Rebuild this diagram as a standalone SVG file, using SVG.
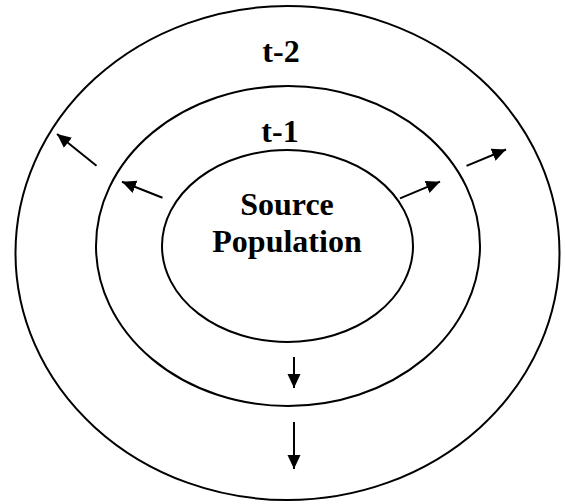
<svg xmlns="http://www.w3.org/2000/svg" width="565" height="504" viewBox="0 0 565 504">
  <style>
    .ring { fill: none; stroke: #000; stroke-width: 2; }
    .lbl { font-family: "Liberation Serif", "Times New Roman", serif; font-weight: bold; font-size: 32px; fill: #000; text-anchor: middle; }
    .arr { stroke: #000; stroke-width: 2; fill: none; marker-end: url(#head); }
  </style>
  <defs>
    <marker id="head" markerUnits="userSpaceOnUse" markerWidth="15" markerHeight="14" refX="14" refY="6.5" orient="auto">
      <path d="M0,0 L14,6.5 L0,13 z" fill="#000"/>
    </marker>
  </defs>
  <rect width="565" height="504" fill="#fff"/>
  <g id="outer">
    <ellipse class="ring" cx="287.5" cy="253" rx="272" ry="247"/>
    <text class="lbl" x="281" y="62">t-2</text>
  </g>
  <g id="middle">
    <ellipse class="ring" cx="288" cy="246" rx="192" ry="160"/>
    <text class="lbl" x="280" y="142">t-1</text>
  </g>
  <g id="source">
    <ellipse class="ring" cx="287.5" cy="246" rx="125.5" ry="96"/>
    <text class="lbl" x="287" y="215">Source</text>
    <text class="lbl" x="287" y="252">Population</text>
  </g>
  <g id="connectors">
    <line class="arr" x1="96.5" y1="165.7" x2="57" y2="134"/>
    <line class="arr" x1="162.5" y1="197.7" x2="122" y2="181.7"/>
    <line class="arr" x1="400" y1="198.3" x2="440" y2="181.7"/>
    <line class="arr" x1="466.5" y1="165.8" x2="506" y2="149.5"/>
    <line class="arr" x1="294" y1="357" x2="294" y2="388"/>
    <line class="arr" x1="294" y1="422" x2="294" y2="469"/>
  </g>
</svg>
